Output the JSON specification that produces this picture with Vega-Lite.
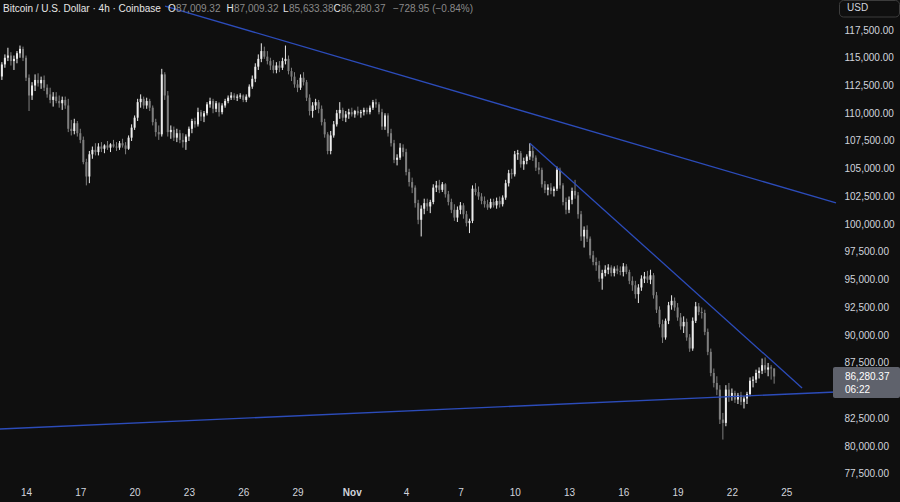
{
"$schema":"https://vega.github.io/schema/vega-lite/v6.json",
"width":834,"height":482,"padding":{"left":0,"top":0,"right":66,"bottom":20},"autosize":{"type":"none"},
"background":"#0f0f0f",
"config":{"view":{"stroke":null},"axis":{"domain":false,"ticks":false,"grid":false,"labelFont":"Liberation Sans","labelFontSize":10,"labelColor":"#d1d4dc","labelOverlap":false}},
"resolve":{"axis":{"x":"independent","y":"independent"}},
"datasets":{
"candles":[
{"t":"2025-10-12T16:00Z","o":113300,"h":114600,"l":113000,"c":114400},
{"t":"2025-10-12T20:00Z","o":114400,"h":115300,"l":114100,"c":115000},
{"t":"2025-10-13T00:00Z","o":115000,"h":115900,"l":114700,"c":115200},
{"t":"2025-10-13T04:00Z","o":115200,"h":115500,"l":114300,"c":114700},
{"t":"2025-10-13T08:00Z","o":114700,"h":115200,"l":113900,"c":114900},
{"t":"2025-10-13T12:00Z","o":114900,"h":115600,"l":114500,"c":115400},
{"t":"2025-10-13T16:00Z","o":115400,"h":116100,"l":115000,"c":115800},
{"t":"2025-10-13T20:00Z","o":115800,"h":116000,"l":114700,"c":115000},
{"t":"2025-10-14T00:00Z","o":115000,"h":115200,"l":112900,"c":113200},
{"t":"2025-10-14T04:00Z","o":113200,"h":113500,"l":110200,"c":111600},
{"t":"2025-10-14T08:00Z","o":111600,"h":112800,"l":111200,"c":112500},
{"t":"2025-10-14T12:00Z","o":112500,"h":113500,"l":112000,"c":113000},
{"t":"2025-10-14T16:00Z","o":113000,"h":113600,"l":112400,"c":112700},
{"t":"2025-10-14T20:00Z","o":112700,"h":113300,"l":112200,"c":113000},
{"t":"2025-10-15T00:00Z","o":113000,"h":113400,"l":112000,"c":112300},
{"t":"2025-10-15T04:00Z","o":112300,"h":112600,"l":111400,"c":111700},
{"t":"2025-10-15T08:00Z","o":111700,"h":112300,"l":110900,"c":111200},
{"t":"2025-10-15T12:00Z","o":111200,"h":111900,"l":110600,"c":111500},
{"t":"2025-10-15T16:00Z","o":111500,"h":111900,"l":110900,"c":111100},
{"t":"2025-10-15T20:00Z","o":111100,"h":111600,"l":110500,"c":110900},
{"t":"2025-10-16T00:00Z","o":110900,"h":111500,"l":110300,"c":111200},
{"t":"2025-10-16T04:00Z","o":111200,"h":111500,"l":110400,"c":110700},
{"t":"2025-10-16T08:00Z","o":110700,"h":111300,"l":108300,"c":108600},
{"t":"2025-10-16T12:00Z","o":108600,"h":109400,"l":108000,"c":108400},
{"t":"2025-10-16T16:00Z","o":108400,"h":109500,"l":108100,"c":109100},
{"t":"2025-10-16T20:00Z","o":109100,"h":109300,"l":107900,"c":108200},
{"t":"2025-10-17T00:00Z","o":108200,"h":108600,"l":107300,"c":107600},
{"t":"2025-10-17T04:00Z","o":107600,"h":107900,"l":105400,"c":105600},
{"t":"2025-10-17T08:00Z","o":105600,"h":105900,"l":103500,"c":104300},
{"t":"2025-10-17T12:00Z","o":104300,"h":106600,"l":103700,"c":106300},
{"t":"2025-10-17T16:00Z","o":106300,"h":107000,"l":105900,"c":106700},
{"t":"2025-10-17T20:00Z","o":106700,"h":107300,"l":106200,"c":106500},
{"t":"2025-10-18T00:00Z","o":106500,"h":107300,"l":106200,"c":107000},
{"t":"2025-10-18T04:00Z","o":107000,"h":107400,"l":106500,"c":106800},
{"t":"2025-10-18T08:00Z","o":106800,"h":107200,"l":106400,"c":107100},
{"t":"2025-10-18T12:00Z","o":107100,"h":107500,"l":106700,"c":106900},
{"t":"2025-10-18T16:00Z","o":106900,"h":107300,"l":106500,"c":107200},
{"t":"2025-10-18T20:00Z","o":107200,"h":107600,"l":106900,"c":107000},
{"t":"2025-10-19T00:00Z","o":107000,"h":107400,"l":106600,"c":106900},
{"t":"2025-10-19T04:00Z","o":106900,"h":107500,"l":106700,"c":107300},
{"t":"2025-10-19T08:00Z","o":107300,"h":107700,"l":106900,"c":107100},
{"t":"2025-10-19T12:00Z","o":107100,"h":107400,"l":106300,"c":106800},
{"t":"2025-10-19T16:00Z","o":106800,"h":108000,"l":106700,"c":107800},
{"t":"2025-10-19T20:00Z","o":107800,"h":109000,"l":107500,"c":108700},
{"t":"2025-10-20T00:00Z","o":108700,"h":109800,"l":108500,"c":109600},
{"t":"2025-10-20T04:00Z","o":109600,"h":111300,"l":109300,"c":111000},
{"t":"2025-10-20T08:00Z","o":111000,"h":111700,"l":110500,"c":111300},
{"t":"2025-10-20T12:00Z","o":111300,"h":111500,"l":110400,"c":110700},
{"t":"2025-10-20T16:00Z","o":110700,"h":111400,"l":110400,"c":111100},
{"t":"2025-10-20T20:00Z","o":111100,"h":111300,"l":110200,"c":110500},
{"t":"2025-10-21T00:00Z","o":110500,"h":110700,"l":108900,"c":109200},
{"t":"2025-10-21T04:00Z","o":109200,"h":109500,"l":107900,"c":108300},
{"t":"2025-10-21T08:00Z","o":108300,"h":108900,"l":107600,"c":108100},
{"t":"2025-10-21T12:00Z","o":108100,"h":114000,"l":107900,"c":113500},
{"t":"2025-10-21T16:00Z","o":113500,"h":113700,"l":111200,"c":111600},
{"t":"2025-10-21T20:00Z","o":111600,"h":112000,"l":107900,"c":108300},
{"t":"2025-10-22T00:00Z","o":108300,"h":108900,"l":107700,"c":108500},
{"t":"2025-10-22T04:00Z","o":108500,"h":108800,"l":107500,"c":107800},
{"t":"2025-10-22T08:00Z","o":107800,"h":108600,"l":107400,"c":108200},
{"t":"2025-10-22T12:00Z","o":108200,"h":108500,"l":107300,"c":107600},
{"t":"2025-10-22T16:00Z","o":107600,"h":108200,"l":106900,"c":107400},
{"t":"2025-10-22T20:00Z","o":107400,"h":108100,"l":106700,"c":107900},
{"t":"2025-10-23T00:00Z","o":107900,"h":108800,"l":107500,"c":108600},
{"t":"2025-10-23T04:00Z","o":108600,"h":109500,"l":108200,"c":109300},
{"t":"2025-10-23T08:00Z","o":109300,"h":109600,"l":108700,"c":109000},
{"t":"2025-10-23T12:00Z","o":109000,"h":110500,"l":108800,"c":110100},
{"t":"2025-10-23T16:00Z","o":110100,"h":110300,"l":109300,"c":109700},
{"t":"2025-10-23T20:00Z","o":109700,"h":110200,"l":109200,"c":110000},
{"t":"2025-10-24T00:00Z","o":110000,"h":111000,"l":109800,"c":110800},
{"t":"2025-10-24T04:00Z","o":110800,"h":111400,"l":110500,"c":111100},
{"t":"2025-10-24T08:00Z","o":111100,"h":111300,"l":110000,"c":110400},
{"t":"2025-10-24T12:00Z","o":110400,"h":111100,"l":110100,"c":110900},
{"t":"2025-10-24T16:00Z","o":110900,"h":111000,"l":109700,"c":110100},
{"t":"2025-10-24T20:00Z","o":110100,"h":110900,"l":109900,"c":110700},
{"t":"2025-10-25T00:00Z","o":110700,"h":111300,"l":110500,"c":111100},
{"t":"2025-10-25T04:00Z","o":111100,"h":111600,"l":110900,"c":111400},
{"t":"2025-10-25T08:00Z","o":111400,"h":111900,"l":111200,"c":111600},
{"t":"2025-10-25T12:00Z","o":111600,"h":111800,"l":111200,"c":111400},
{"t":"2025-10-25T16:00Z","o":111400,"h":111700,"l":111100,"c":111500},
{"t":"2025-10-25T20:00Z","o":111500,"h":111800,"l":111300,"c":111600},
{"t":"2025-10-26T00:00Z","o":111600,"h":111700,"l":111000,"c":111200},
{"t":"2025-10-26T04:00Z","o":111200,"h":111700,"l":111000,"c":111500},
{"t":"2025-10-26T08:00Z","o":111500,"h":112600,"l":111400,"c":112400},
{"t":"2025-10-26T12:00Z","o":112400,"h":113400,"l":112200,"c":113100},
{"t":"2025-10-26T16:00Z","o":113100,"h":114500,"l":112800,"c":114200},
{"t":"2025-10-26T20:00Z","o":114200,"h":115300,"l":113900,"c":114900},
{"t":"2025-10-27T00:00Z","o":114900,"h":116300,"l":114600,"c":115600},
{"t":"2025-10-27T04:00Z","o":115600,"h":116000,"l":114900,"c":115100},
{"t":"2025-10-27T08:00Z","o":115100,"h":115600,"l":114400,"c":114700},
{"t":"2025-10-27T12:00Z","o":114700,"h":115000,"l":113900,"c":114300},
{"t":"2025-10-27T16:00Z","o":114300,"h":114800,"l":113600,"c":113900},
{"t":"2025-10-27T20:00Z","o":113900,"h":114600,"l":113600,"c":114300},
{"t":"2025-10-28T00:00Z","o":114300,"h":114700,"l":113700,"c":114100},
{"t":"2025-10-28T04:00Z","o":114100,"h":115000,"l":113900,"c":114700},
{"t":"2025-10-28T08:00Z","o":114700,"h":116100,"l":114400,"c":114900},
{"t":"2025-10-28T12:00Z","o":114900,"h":115200,"l":113500,"c":113800},
{"t":"2025-10-28T16:00Z","o":113800,"h":114100,"l":112900,"c":113300},
{"t":"2025-10-28T20:00Z","o":113300,"h":113700,"l":112300,"c":112600},
{"t":"2025-10-29T00:00Z","o":112600,"h":113000,"l":111900,"c":112300},
{"t":"2025-10-29T04:00Z","o":112300,"h":113500,"l":112100,"c":113200},
{"t":"2025-10-29T08:00Z","o":113200,"h":113700,"l":112500,"c":112800},
{"t":"2025-10-29T12:00Z","o":112800,"h":113000,"l":111100,"c":111400},
{"t":"2025-10-29T16:00Z","o":111400,"h":111700,"l":109800,"c":110200},
{"t":"2025-10-29T20:00Z","o":110200,"h":111000,"l":109600,"c":110700},
{"t":"2025-10-30T00:00Z","o":110700,"h":111300,"l":110300,"c":111000},
{"t":"2025-10-30T04:00Z","o":111000,"h":111200,"l":110000,"c":110400},
{"t":"2025-10-30T08:00Z","o":110400,"h":110700,"l":108900,"c":109200},
{"t":"2025-10-30T12:00Z","o":109200,"h":109500,"l":107800,"c":108100},
{"t":"2025-10-30T16:00Z","o":108100,"h":108300,"l":106300,"c":106600},
{"t":"2025-10-30T20:00Z","o":106600,"h":108400,"l":106300,"c":108000},
{"t":"2025-10-31T00:00Z","o":108000,"h":109300,"l":107800,"c":109000},
{"t":"2025-10-31T04:00Z","o":109000,"h":110300,"l":108800,"c":110000},
{"t":"2025-10-31T08:00Z","o":110000,"h":111000,"l":109500,"c":110300},
{"t":"2025-10-31T12:00Z","o":110300,"h":110500,"l":109300,"c":109600},
{"t":"2025-10-31T16:00Z","o":109600,"h":110200,"l":109200,"c":109900},
{"t":"2025-10-31T20:00Z","o":109900,"h":110400,"l":109500,"c":110100},
{"t":"2025-11-01T00:00Z","o":110100,"h":110500,"l":109700,"c":109900},
{"t":"2025-11-01T04:00Z","o":109900,"h":110300,"l":109600,"c":110200},
{"t":"2025-11-01T08:00Z","o":110200,"h":110600,"l":109800,"c":110000},
{"t":"2025-11-01T12:00Z","o":110000,"h":110300,"l":109600,"c":110100},
{"t":"2025-11-01T16:00Z","o":110100,"h":110500,"l":109800,"c":110300},
{"t":"2025-11-01T20:00Z","o":110300,"h":110500,"l":109900,"c":110100},
{"t":"2025-11-02T00:00Z","o":110100,"h":110700,"l":109900,"c":110500},
{"t":"2025-11-02T04:00Z","o":110500,"h":111200,"l":110300,"c":111000},
{"t":"2025-11-02T08:00Z","o":111000,"h":111300,"l":110500,"c":110800},
{"t":"2025-11-02T12:00Z","o":110800,"h":111000,"l":109900,"c":110100},
{"t":"2025-11-02T16:00Z","o":110100,"h":110400,"l":108500,"c":108800},
{"t":"2025-11-02T20:00Z","o":108800,"h":110000,"l":108500,"c":109800},
{"t":"2025-11-03T00:00Z","o":109800,"h":110000,"l":107900,"c":108200},
{"t":"2025-11-03T04:00Z","o":108200,"h":108600,"l":107000,"c":107300},
{"t":"2025-11-03T08:00Z","o":107300,"h":107600,"l":105500,"c":105800},
{"t":"2025-11-03T12:00Z","o":105800,"h":106300,"l":105300,"c":106000},
{"t":"2025-11-03T16:00Z","o":106000,"h":107300,"l":105800,"c":106900},
{"t":"2025-11-03T20:00Z","o":106900,"h":107200,"l":106100,"c":106500},
{"t":"2025-11-04T00:00Z","o":106500,"h":106800,"l":104400,"c":104700},
{"t":"2025-11-04T04:00Z","o":104700,"h":105000,"l":103400,"c":103800},
{"t":"2025-11-04T08:00Z","o":103800,"h":104200,"l":102800,"c":103300},
{"t":"2025-11-04T12:00Z","o":103300,"h":103500,"l":101500,"c":101900},
{"t":"2025-11-04T16:00Z","o":101900,"h":102200,"l":100000,"c":100400},
{"t":"2025-11-04T20:00Z","o":100400,"h":101700,"l":98900,"c":101400},
{"t":"2025-11-05T00:00Z","o":101400,"h":102300,"l":100900,"c":101900},
{"t":"2025-11-05T04:00Z","o":101900,"h":102300,"l":101200,"c":101600},
{"t":"2025-11-05T08:00Z","o":101600,"h":102200,"l":101000,"c":102000},
{"t":"2025-11-05T12:00Z","o":102000,"h":103600,"l":101800,"c":103300},
{"t":"2025-11-05T16:00Z","o":103300,"h":103900,"l":102900,"c":103500},
{"t":"2025-11-05T20:00Z","o":103500,"h":104000,"l":102800,"c":103100},
{"t":"2025-11-06T00:00Z","o":103100,"h":103800,"l":102900,"c":103600},
{"t":"2025-11-06T04:00Z","o":103600,"h":103700,"l":102400,"c":102700},
{"t":"2025-11-06T08:00Z","o":102700,"h":103000,"l":101700,"c":102000},
{"t":"2025-11-06T12:00Z","o":102000,"h":102300,"l":101000,"c":101300},
{"t":"2025-11-06T16:00Z","o":101300,"h":101800,"l":100300,"c":100600},
{"t":"2025-11-06T20:00Z","o":100600,"h":101600,"l":100200,"c":101300},
{"t":"2025-11-07T00:00Z","o":101300,"h":102000,"l":100900,"c":101700},
{"t":"2025-11-07T04:00Z","o":101700,"h":101900,"l":100500,"c":100900},
{"t":"2025-11-07T08:00Z","o":100900,"h":101200,"l":99800,"c":100100},
{"t":"2025-11-07T12:00Z","o":100100,"h":100500,"l":99200,"c":100300},
{"t":"2025-11-07T16:00Z","o":100300,"h":103500,"l":100100,"c":103200},
{"t":"2025-11-07T20:00Z","o":103200,"h":103700,"l":102600,"c":102900},
{"t":"2025-11-08T00:00Z","o":102900,"h":103400,"l":102200,"c":102500},
{"t":"2025-11-08T04:00Z","o":102500,"h":102800,"l":101800,"c":102100},
{"t":"2025-11-08T08:00Z","o":102100,"h":102500,"l":101500,"c":101800},
{"t":"2025-11-08T12:00Z","o":101800,"h":102200,"l":101300,"c":101500},
{"t":"2025-11-08T16:00Z","o":101500,"h":102300,"l":101400,"c":102000},
{"t":"2025-11-08T20:00Z","o":102000,"h":102300,"l":101500,"c":101700},
{"t":"2025-11-09T00:00Z","o":101700,"h":102400,"l":101400,"c":102100},
{"t":"2025-11-09T04:00Z","o":102100,"h":102500,"l":101500,"c":101800},
{"t":"2025-11-09T08:00Z","o":101800,"h":102600,"l":101600,"c":102400},
{"t":"2025-11-09T12:00Z","o":102400,"h":104000,"l":102200,"c":103700},
{"t":"2025-11-09T16:00Z","o":103700,"h":104900,"l":103400,"c":104600},
{"t":"2025-11-09T20:00Z","o":104600,"h":105000,"l":104100,"c":104500},
{"t":"2025-11-10T00:00Z","o":104500,"h":106600,"l":104300,"c":106300},
{"t":"2025-11-10T04:00Z","o":106300,"h":106700,"l":105800,"c":106400},
{"t":"2025-11-10T08:00Z","o":106400,"h":106600,"l":105100,"c":105400},
{"t":"2025-11-10T12:00Z","o":105400,"h":106000,"l":104900,"c":105700},
{"t":"2025-11-10T16:00Z","o":105700,"h":106300,"l":105400,"c":106100},
{"t":"2025-11-10T20:00Z","o":106100,"h":107300,"l":105800,"c":106600},
{"t":"2025-11-11T00:00Z","o":106600,"h":107000,"l":105700,"c":106000},
{"t":"2025-11-11T04:00Z","o":106000,"h":106200,"l":104800,"c":105100},
{"t":"2025-11-11T08:00Z","o":105100,"h":105600,"l":104500,"c":104900},
{"t":"2025-11-11T12:00Z","o":104900,"h":105100,"l":103300,"c":103600},
{"t":"2025-11-11T16:00Z","o":103600,"h":103900,"l":102800,"c":103100},
{"t":"2025-11-11T20:00Z","o":103100,"h":103600,"l":102600,"c":103300},
{"t":"2025-11-12T00:00Z","o":103300,"h":103700,"l":102700,"c":103000},
{"t":"2025-11-12T04:00Z","o":103000,"h":103400,"l":102500,"c":103200},
{"t":"2025-11-12T08:00Z","o":103200,"h":105200,"l":103000,"c":104900},
{"t":"2025-11-12T12:00Z","o":104900,"h":105100,"l":103200,"c":103500},
{"t":"2025-11-12T16:00Z","o":103500,"h":103700,"l":101700,"c":102000},
{"t":"2025-11-12T20:00Z","o":102000,"h":102400,"l":100900,"c":101300},
{"t":"2025-11-13T00:00Z","o":101300,"h":102500,"l":101000,"c":102200},
{"t":"2025-11-13T04:00Z","o":102200,"h":103300,"l":101800,"c":103000},
{"t":"2025-11-13T08:00Z","o":103000,"h":104000,"l":102300,"c":102600},
{"t":"2025-11-13T12:00Z","o":102600,"h":102900,"l":100500,"c":100900},
{"t":"2025-11-13T16:00Z","o":100900,"h":101200,"l":98500,"c":98900},
{"t":"2025-11-13T20:00Z","o":98900,"h":99800,"l":97900,"c":99500},
{"t":"2025-11-14T00:00Z","o":99500,"h":99900,"l":98400,"c":98700},
{"t":"2025-11-14T04:00Z","o":98700,"h":98900,"l":96900,"c":97200},
{"t":"2025-11-14T08:00Z","o":97200,"h":97600,"l":96300,"c":96600},
{"t":"2025-11-14T12:00Z","o":96600,"h":97000,"l":95800,"c":96300},
{"t":"2025-11-14T16:00Z","o":96300,"h":96700,"l":94800,"c":95100},
{"t":"2025-11-14T20:00Z","o":95100,"h":95900,"l":94100,"c":95600},
{"t":"2025-11-15T00:00Z","o":95600,"h":96300,"l":95300,"c":95900},
{"t":"2025-11-15T04:00Z","o":95900,"h":96400,"l":95500,"c":96100},
{"t":"2025-11-15T08:00Z","o":96100,"h":96300,"l":95300,"c":95600},
{"t":"2025-11-15T12:00Z","o":95600,"h":96200,"l":95300,"c":96000},
{"t":"2025-11-15T16:00Z","o":96000,"h":96300,"l":95500,"c":95800},
{"t":"2025-11-15T20:00Z","o":95800,"h":96200,"l":95400,"c":95700},
{"t":"2025-11-16T00:00Z","o":95700,"h":96500,"l":95300,"c":96200},
{"t":"2025-11-16T04:00Z","o":96200,"h":96400,"l":95500,"c":95700},
{"t":"2025-11-16T08:00Z","o":95700,"h":95900,"l":94600,"c":94900},
{"t":"2025-11-16T12:00Z","o":94900,"h":95300,"l":94000,"c":94500},
{"t":"2025-11-16T16:00Z","o":94500,"h":94900,"l":93300,"c":93700},
{"t":"2025-11-16T20:00Z","o":93700,"h":94600,"l":92900,"c":94300},
{"t":"2025-11-17T00:00Z","o":94300,"h":95400,"l":94000,"c":95100},
{"t":"2025-11-17T04:00Z","o":95100,"h":95700,"l":94700,"c":95300},
{"t":"2025-11-17T08:00Z","o":95300,"h":95800,"l":94700,"c":95000},
{"t":"2025-11-17T12:00Z","o":95000,"h":95900,"l":94600,"c":95400},
{"t":"2025-11-17T16:00Z","o":95400,"h":95600,"l":93300,"c":93600},
{"t":"2025-11-17T20:00Z","o":93600,"h":93900,"l":92000,"c":92300},
{"t":"2025-11-18T00:00Z","o":92300,"h":92600,"l":90700,"c":91000},
{"t":"2025-11-18T04:00Z","o":91000,"h":91400,"l":89300,"c":89800},
{"t":"2025-11-18T08:00Z","o":89800,"h":91500,"l":89600,"c":91300},
{"t":"2025-11-18T12:00Z","o":91300,"h":93000,"l":91000,"c":92700},
{"t":"2025-11-18T16:00Z","o":92700,"h":93600,"l":92300,"c":93100},
{"t":"2025-11-18T20:00Z","o":93100,"h":93400,"l":92200,"c":92500},
{"t":"2025-11-19T00:00Z","o":92500,"h":92900,"l":91300,"c":91600},
{"t":"2025-11-19T04:00Z","o":91600,"h":92000,"l":90500,"c":90800},
{"t":"2025-11-19T08:00Z","o":90800,"h":91700,"l":90200,"c":91200},
{"t":"2025-11-19T12:00Z","o":91200,"h":91500,"l":89500,"c":89800},
{"t":"2025-11-19T16:00Z","o":89800,"h":90100,"l":88500,"c":88800},
{"t":"2025-11-19T20:00Z","o":88800,"h":91600,"l":88600,"c":91300},
{"t":"2025-11-20T00:00Z","o":91300,"h":93000,"l":91100,"c":92600},
{"t":"2025-11-20T04:00Z","o":92600,"h":92900,"l":91800,"c":92100},
{"t":"2025-11-20T08:00Z","o":92100,"h":92500,"l":91500,"c":92000},
{"t":"2025-11-20T12:00Z","o":92000,"h":92300,"l":90000,"c":90300},
{"t":"2025-11-20T16:00Z","o":90300,"h":90600,"l":88200,"c":88500},
{"t":"2025-11-20T20:00Z","o":88500,"h":88800,"l":86300,"c":86600},
{"t":"2025-11-21T00:00Z","o":86600,"h":87000,"l":85300,"c":85700},
{"t":"2025-11-21T04:00Z","o":85700,"h":86300,"l":84600,"c":85100},
{"t":"2025-11-21T08:00Z","o":85100,"h":85500,"l":82000,"c":82400},
{"t":"2025-11-21T12:00Z","o":82400,"h":83000,"l":80600,"c":82100},
{"t":"2025-11-21T16:00Z","o":82100,"h":85500,"l":81800,"c":85100},
{"t":"2025-11-21T20:00Z","o":85100,"h":85700,"l":84000,"c":84500},
{"t":"2025-11-22T00:00Z","o":84500,"h":85200,"l":84100,"c":84800},
{"t":"2025-11-22T04:00Z","o":84800,"h":85000,"l":83900,"c":84200},
{"t":"2025-11-22T08:00Z","o":84200,"h":84800,"l":83800,"c":84600},
{"t":"2025-11-22T12:00Z","o":84600,"h":84900,"l":83700,"c":84000},
{"t":"2025-11-22T16:00Z","o":84000,"h":84500,"l":83400,"c":84300},
{"t":"2025-11-22T20:00Z","o":84300,"h":84900,"l":83800,"c":84700},
{"t":"2025-11-23T00:00Z","o":84700,"h":86200,"l":84500,"c":85900},
{"t":"2025-11-23T04:00Z","o":85900,"h":86300,"l":85300,"c":86000},
{"t":"2025-11-23T08:00Z","o":86000,"h":86900,"l":85700,"c":86600},
{"t":"2025-11-23T12:00Z","o":86600,"h":87100,"l":86100,"c":86800},
{"t":"2025-11-23T16:00Z","o":86800,"h":87900,"l":86500,"c":87300},
{"t":"2025-11-23T20:00Z","o":87300,"h":88000,"l":86600,"c":86900},
{"t":"2025-11-24T00:00Z","o":86900,"h":87500,"l":86300,"c":87100},
{"t":"2025-11-24T04:00Z","o":87100,"h":87300,"l":86000,"c":87009.32},
{"t":"2025-11-24T08:00Z","o":87009.32,"h":87009.32,"l":85633.38,"c":86280.37}
],
"lines":[
{"id":"a","t":"2025-10-21T16:20Z","p":119662},{"id":"a","t":"2025-11-27T18:00Z","p":101913},
{"id":"b","t":"2025-11-10T20:00Z","p":107300},{"id":"b","t":"2025-11-25T21:00Z","p":85244},
{"id":"c","t":"2025-10-12T13:30Z","p":81550},{"id":"c","t":"2025-11-27T18:00Z","p":84884}
],
"header":[
{"txt":"Bitcoin / U.S. Dollar · 4h · Coinbase","kind":"w","t":1760290120440,"p":119437},
{"txt":"O","kind":"w","t":1761077744640,"p":119437},
{"txt":"87,009.32","kind":"g","t":1761115932480,"p":119437},
{"txt":"H","kind":"w","t":1761356993220,"p":119437},
{"txt":"87,009.32","kind":"g","t":1761392794320,"p":119437},
{"txt":"L","kind":"w","t":1761626694840,"p":119437},
{"txt":"85,633.38","kind":"g","t":1761655335720,"p":119437},
{"txt":"C","kind":"w","t":1761867755580,"p":119437},
{"txt":"86,280.37","kind":"g","t":1761903556680,"p":119437},
{"txt":"−728.95 (−0.84%)","kind":"g","t":1762151777640,"p":119437}
],
"pricebox":[{"t":1764252108840,"t2":1764571932000,"p":87136,"p2":84343}],
"pricetext":[{"txt":"86,280.37","t":1764309390600,"p":86235},{"txt":"06:22","t":1764309390600,"p":85109}],
"usdbox":[{"t":1764283136460,"t2":1764569545260,"p":120158,"p2":118671}],
"usdtext":[{"txt":"USD","t":1764318937560,"p":119482}]
},
"layer":[
{"data":{"name":"candles"},"mark":{"type":"rule","strokeWidth":1},
 "encoding":{
  "x":{"field":"t","type":"temporal","title":null,"scale":{"type":"utc","domain":[1760275800000,1764256882320],"nice":false,"padding":0},
   "axis":{"values":[{"year":2025,"month":10,"date":14,"utc":true},{"year":2025,"month":10,"date":17,"utc":true},{"year":2025,"month":10,"date":20,"utc":true},{"year":2025,"month":10,"date":23,"utc":true},{"year":2025,"month":10,"date":26,"utc":true},{"year":2025,"month":10,"date":29,"utc":true},{"year":2025,"month":11,"date":1,"utc":true},{"year":2025,"month":11,"date":4,"utc":true},{"year":2025,"month":11,"date":7,"utc":true},{"year":2025,"month":11,"date":10,"utc":true},{"year":2025,"month":11,"date":13,"utc":true},{"year":2025,"month":11,"date":16,"utc":true},{"year":2025,"month":11,"date":19,"utc":true},{"year":2025,"month":11,"date":22,"utc":true},{"year":2025,"month":11,"date":25,"utc":true}],
    "labelExpr":"utcdate(datum.value) == 1 ? utcFormat(datum.value, '%b') : utcFormat(datum.value, '%-d')",
    "labelFontWeight":{"condition":{"test":"utcdate(datum.value) == 1","value":"bold"},"value":"normal"},
    "labelPadding":5,"labelFlush":false,"labelOverlap":false}},
  "y":{"field":"l","type":"quantitative","title":null,"scale":{"domain":[76775,120203],"zero":false,"nice":false,"padding":0},
   "axis":{"orient":"right","values":[77500,80000,82500,87500,90000,92500,95000,97500,100000,102500,105000,107500,110000,112500,115000,117500],"format":",.2f","labelPadding":10,"labelOverlap":false,"labelFlush":false,"labelBaseline":"middle","labelSeparation":0}},
  "y2":{"field":"h"},
  "color":{"condition":{"test":"datum.c >= datum.o","value":"#ececec"},"value":"#7e7e7e"}
 }},
{"data":{"name":"candles"},"mark":{"type":"bar","size":2},
 "encoding":{
  "x":{"field":"t","type":"temporal","axis":null,"scale":{"type":"utc","domain":[1760275800000,1764256882320],"nice":false,"padding":0}},
  "y":{"field":"o","type":"quantitative","axis":null,"scale":{"domain":[76775,120203],"zero":false,"nice":false,"padding":0}},
  "y2":{"field":"c"},
  "color":{"condition":{"test":"datum.c >= datum.o","value":"#ececec"},"value":"#7e7e7e"}
 }},
{"data":{"name":"lines"},"mark":{"type":"line","strokeWidth":1.3,"color":"#2c4cba"},
 "encoding":{
  "x":{"field":"t","type":"temporal","axis":null,"scale":{"type":"utc","domain":[1760275800000,1764256882320],"nice":false,"padding":0}},
  "y":{"field":"p","type":"quantitative","axis":null,"scale":{"domain":[76775,120203],"zero":false,"nice":false,"padding":0}},
  "detail":{"field":"id"}
 }},
{"data":{"name":"header"},"mark":{"type":"text","align":"left","baseline":"middle","fontSize":10,"font":"Liberation Sans"},
 "encoding":{
  "x":{"field":"t","type":"temporal","axis":null,"scale":{"type":"utc","domain":[1760275800000,1764256882320],"nice":false,"padding":0}},
  "y":{"field":"p","type":"quantitative","axis":null,"scale":{"domain":[76775,120203],"zero":false,"nice":false,"padding":0}},
  "text":{"field":"txt"},
  "color":{"field":"kind","type":"nominal","scale":{"domain":["w","g"],"range":["#e6e6e6","#8a8a8a"]},"legend":null}
 }},
{"data":{"name":"pricebox"},"mark":{"type":"rect","color":"#5f626c","cornerRadius":2},
 "encoding":{
  "x":{"field":"t","type":"temporal","axis":null,"scale":{"type":"utc","domain":[1760275800000,1764256882320],"nice":false,"padding":0}},
  "x2":{"field":"t2"},
  "y":{"field":"p","type":"quantitative","axis":null,"scale":{"domain":[76775,120203],"zero":false,"nice":false,"padding":0}},
  "y2":{"field":"p2"}
 }},
{"data":{"name":"pricetext"},"mark":{"type":"text","align":"left","baseline":"middle","fontSize":10,"font":"Liberation Sans","color":"#ffffff"},
 "encoding":{
  "x":{"field":"t","type":"temporal","axis":null,"scale":{"type":"utc","domain":[1760275800000,1764256882320],"nice":false,"padding":0}},
  "y":{"field":"p","type":"quantitative","axis":null,"scale":{"domain":[76775,120203],"zero":false,"nice":false,"padding":0}},
  "text":{"field":"txt"}
 }},
{"data":{"name":"usdbox"},"mark":{"type":"rect","fill":"#0f0f0f","stroke":"#3d3d3d","strokeWidth":1,"cornerRadius":4},
 "encoding":{
  "x":{"field":"t","type":"temporal","axis":null,"scale":{"type":"utc","domain":[1760275800000,1764256882320],"nice":false,"padding":0}},
  "x2":{"field":"t2"},
  "y":{"field":"p","type":"quantitative","axis":null,"scale":{"domain":[76775,120203],"zero":false,"nice":false,"padding":0}},
  "y2":{"field":"p2"}
 }},
{"data":{"name":"usdtext"},"mark":{"type":"text","align":"left","baseline":"middle","fontSize":10,"font":"Liberation Sans","color":"#d1d4dc"},
 "encoding":{
  "x":{"field":"t","type":"temporal","axis":null,"scale":{"type":"utc","domain":[1760275800000,1764256882320],"nice":false,"padding":0}},
  "y":{"field":"p","type":"quantitative","axis":null,"scale":{"domain":[76775,120203],"zero":false,"nice":false,"padding":0}},
  "text":{"field":"txt"}
 }}
]
}
